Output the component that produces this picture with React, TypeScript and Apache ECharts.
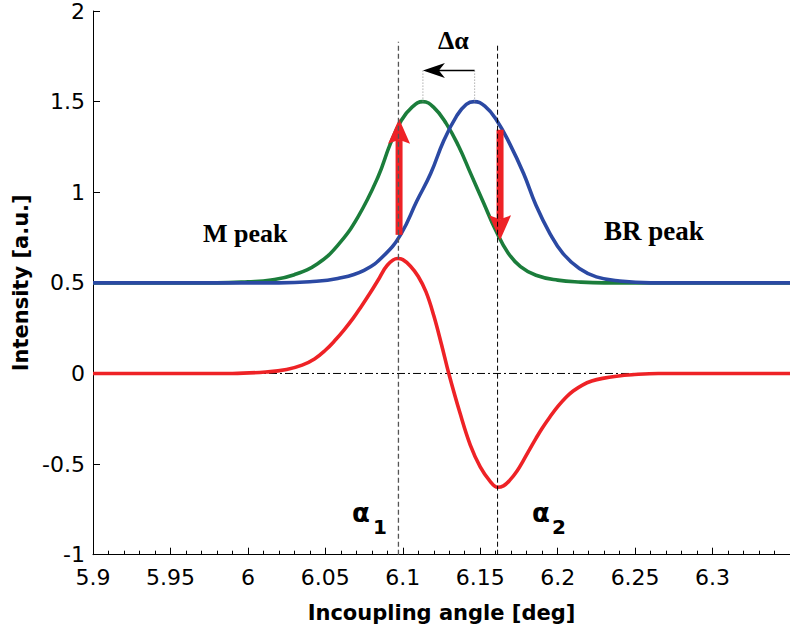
import React, { useEffect, useRef } from "react";
import * as echarts from "echarts";

// Values
const greenPeak: [number, number][] = [
  [5.9, 0.5], [5.98, 0.5], [6.0, 0.506], [6.015, 0.516], [6.03, 0.545], [6.045, 0.606],
  [6.058, 0.707], [6.071, 0.863], [6.084, 1.084], [6.092, 1.268], [6.099, 1.396],
  [6.106, 1.47], [6.113, 1.5], [6.12, 1.468], [6.128, 1.38], [6.136, 1.255],
  [6.144, 1.1], [6.152, 0.945], [6.16, 0.79], [6.168, 0.665], [6.176, 0.59],
  [6.186, 0.542], [6.2, 0.515], [6.215, 0.504], [6.23, 0.5], [6.35, 0.5],
];
const bluePeak: [number, number][] = [
  [5.9, 0.5], [6.02, 0.5], [6.04, 0.506], [6.058, 0.524], [6.075, 0.569], [6.088, 0.652],
  [6.099, 0.772], [6.109, 0.95], [6.118, 1.103], [6.1265, 1.286], [6.135, 1.424],
  [6.141, 1.485], [6.146, 1.5], [6.153, 1.475], [6.1607, 1.396], [6.169, 1.268],
  [6.178, 1.103], [6.186, 0.928], [6.195, 0.772], [6.2035, 0.661], [6.214, 0.579],
  [6.225, 0.533], [6.24, 0.51], [6.26, 0.5], [6.35, 0.5],
];
const diffSignal: [number, number][] = [
  [5.9, 0], [5.99, 0], [6.013, 0.009], [6.025, 0.022], [6.035, 0.046], [6.043, 0.08],
  [6.05, 0.128], [6.056, 0.18], [6.062, 0.239], [6.068, 0.305], [6.073, 0.367],
  [6.079, 0.445], [6.084, 0.514], [6.09, 0.597], [6.0966, 0.634], [6.1, 0.628],
  [6.105, 0.592], [6.11, 0.535], [6.115, 0.45], [6.12, 0.32], [6.125, 0.16], [6.1297, 0],
  [6.137, -0.22], [6.1436, -0.395], [6.15, -0.515], [6.1564, -0.595], [6.1612, -0.628],
  [6.165, -0.62], [6.169, -0.59], [6.174, -0.535], [6.178, -0.478], [6.182, -0.418],
  [6.186, -0.358], [6.19, -0.302], [6.195, -0.24], [6.2, -0.183], [6.2056, -0.13],
  [6.21, -0.097], [6.216, -0.064], [6.222, -0.042], [6.229, -0.027], [6.238, -0.015],
  [6.248, -0.007], [6.265, 0], [6.35, 0],
];
const zeroLine: [number, number][] = [[5.9, 0], [6.35, 0]];
const alpha1Line: [number, number][] = [[6.0972, -1], [6.0972, 1.83]];
const alpha2Line: [number, number][] = [[6.1612, -1], [6.1612, 1.81]];
const peakMLine: [number, number][] = [[6.113, 1.5], [6.113, 1.68]];
const peakBRLine: [number, number][] = [[6.1464, 1.5], [6.1464, 1.68]];
// [x1, y1, x2(tip), y2(tip)]
const redArrows: number[][] = [
  [6.0976, 0.765, 6.0976, 1.405],
  [6.1628, 1.345, 6.1628, 0.735],
];
const shiftArrow: number[][] = [[6.1464, 1.672, 6.113, 1.672]];

const GREEN = "#1b7d3b";
const BLUE = "#2b49a3";
const RED = "#ee2226";

function arrowRenderer(color: string, shaftW: number, headL: number, headW: number, notch: number) {
  return (_params: any, api: any) => {
    const p1 = api.coord([api.value(0), api.value(1)]);
    const p2 = api.coord([api.value(2), api.value(3)]);
    const dx = p2[0] - p1[0];
    const dy = p2[1] - p1[1];
    const len = Math.hypot(dx, dy) || 1;
    const ux = dx / len, uy = dy / len;
    const nx = -uy, ny = ux;
    const bx = p2[0] - ux * headL, by = p2[1] - uy * headL;
    const mx = p2[0] - ux * (headL - notch), my = p2[1] - uy * (headL - notch);
    return {
      type: "group",
      children: [
        {
          type: "line",
          shape: { x1: p1[0], y1: p1[1], x2: mx, y2: my },
          style: { stroke: color, lineWidth: shaftW },
        },
        {
          type: "polygon",
          shape: {
            points: [
              [p2[0], p2[1]],
              [bx + (nx * headW) / 2, by + (ny * headW) / 2],
              [mx, my],
              [bx - (nx * headW) / 2, by - (ny * headW) / 2],
            ],
          },
          style: { fill: color },
        },
      ],
    };
  };
}

const SANS = '"DejaVu Sans", sans-serif';
const SERIF = '"Liberation Serif", "Times New Roman", serif';

export default function App() {
  const ref = useRef<HTMLDivElement>(null);
  useEffect(() => {
    if (!ref.current) return;
    const chart = echarts.init(ref.current, undefined, { renderer: "svg" });
    const plain = (data: any, color: string, width: number, type: any, z = 2, smooth: any = false) => ({
      type: "line",
      data,
      symbol: "none",
      silent: true,
      z,
      smooth,
      lineStyle: { color, width, type },
    });
    chart.setOption({
      animation: false,
      grid: { left: 93, right: -6, top: 10.5, bottom: 82.3, containLabel: false },
      xAxis: {
        type: "value",
        min: 5.9,
        max: 6.35,
        interval: 0.05,
        name: "Incoupling angle [deg]",
        nameLocation: "middle",
        nameGap: 48,
        nameTextStyle: { fontFamily: SANS, fontWeight: "bold", fontSize: 21, color: "#000" },
        axisLine: { show: true, onZero: false, lineStyle: { color: "#000", width: 1 } },
        axisTick: { show: true, inside: true, length: 7, lineStyle: { color: "#000" } },
        minorTick: { show: true, splitNumber: 5, length: 4, lineStyle: { color: "#000" } },
        splitLine: { show: false },
        axisLabel: {
          margin: 12,
          fontFamily: SANS,
          fontSize: 22,
          color: "#000",
          showMaxLabel: false,
        },
      },
      yAxis: {
        type: "value",
        min: -1,
        max: 2,
        interval: 0.5,
        name: "Intensity [a.u.]",
        nameLocation: "middle",
        nameGap: 58,
        nameTextStyle: { fontFamily: SANS, fontWeight: "bold", fontSize: 21, color: "#000" },
        axisLine: { show: true, onZero: false, lineStyle: { color: "#000", width: 1 } },
        axisTick: { show: true, inside: true, length: 7, lineStyle: { color: "#000" } },
        splitLine: { show: false },
        axisLabel: { margin: 8, fontFamily: SANS, fontSize: 22, color: "#000" },
      },
      series: [
        plain(zeroLine, "#000", 1, [8, 3, 2, 3], 2),
        plain(diffSignal, RED, 3.6, "solid", 3, 0.4),
        plain(greenPeak, GREEN, 3.6, "solid", 3, 0.45),
        plain(bluePeak, BLUE, 3.6, "solid", 3, 0.45),
        {
          type: "custom",
          data: redArrows,
          encode: { x: [0, 2], y: [1, 3] },
          renderItem: arrowRenderer(RED, 7, 25, 22, 4),
          silent: true,
          z: 4,
        },
        {
          type: "custom",
          data: shiftArrow,
          encode: { x: [0, 2], y: [1, 3] },
          renderItem: arrowRenderer("#000", 1.6, 22, 15, 6),
          silent: true,
          z: 4,
        },
        plain(peakMLine, "#888", 1, [1, 2], 5),
        plain(peakBRLine, "#888", 1, [1, 2], 5),
        plain(alpha1Line, "#555", 1.3, [5, 3], 5),
        plain(alpha2Line, "#000", 1, [5, 3], 5),
      ],
      graphic: [
        {
          type: "text",
          style: { text: "M peak", x: 203, y: 233, fontFamily: SERIF, fontWeight: "bold", fontSize: 26, fill: "#000", align: "left", verticalAlign: "middle" },
        },
        {
          type: "text",
          style: { text: "BR peak", x: 604, y: 231, fontFamily: SERIF, fontWeight: "bold", fontSize: 27, fill: "#000", align: "left", verticalAlign: "middle" },
        },
        {
          type: "text",
          style: { text: "Δα", x: 438, y: 40, fontFamily: SERIF, fontWeight: "bold", fontSize: 26, fill: "#000", align: "left", verticalAlign: "middle" },
        },
        {
          type: "text",
          style: { text: "α", x: 352, y: 513, fontFamily: SANS, fontWeight: "bold", fontSize: 26, fill: "#000", align: "left", verticalAlign: "middle" },
        },
        {
          type: "text",
          style: { text: "1", x: 373, y: 527, fontFamily: SANS, fontWeight: "bold", fontSize: 20, fill: "#000", align: "left", verticalAlign: "middle" },
        },
        {
          type: "text",
          style: { text: "α", x: 532, y: 513, fontFamily: SANS, fontWeight: "bold", fontSize: 26, fill: "#000", align: "left", verticalAlign: "middle" },
        },
        {
          type: "text",
          style: { text: "2", x: 552, y: 527, fontFamily: SANS, fontWeight: "bold", fontSize: 20, fill: "#000", align: "left", verticalAlign: "middle" },
        },
      ],
    });
    return () => chart.dispose();
  }, []);
  return <div ref={ref} style={{ width: 790, height: 637, position: "absolute", left: 0, top: 0, background: "#fff" }} />;
}
